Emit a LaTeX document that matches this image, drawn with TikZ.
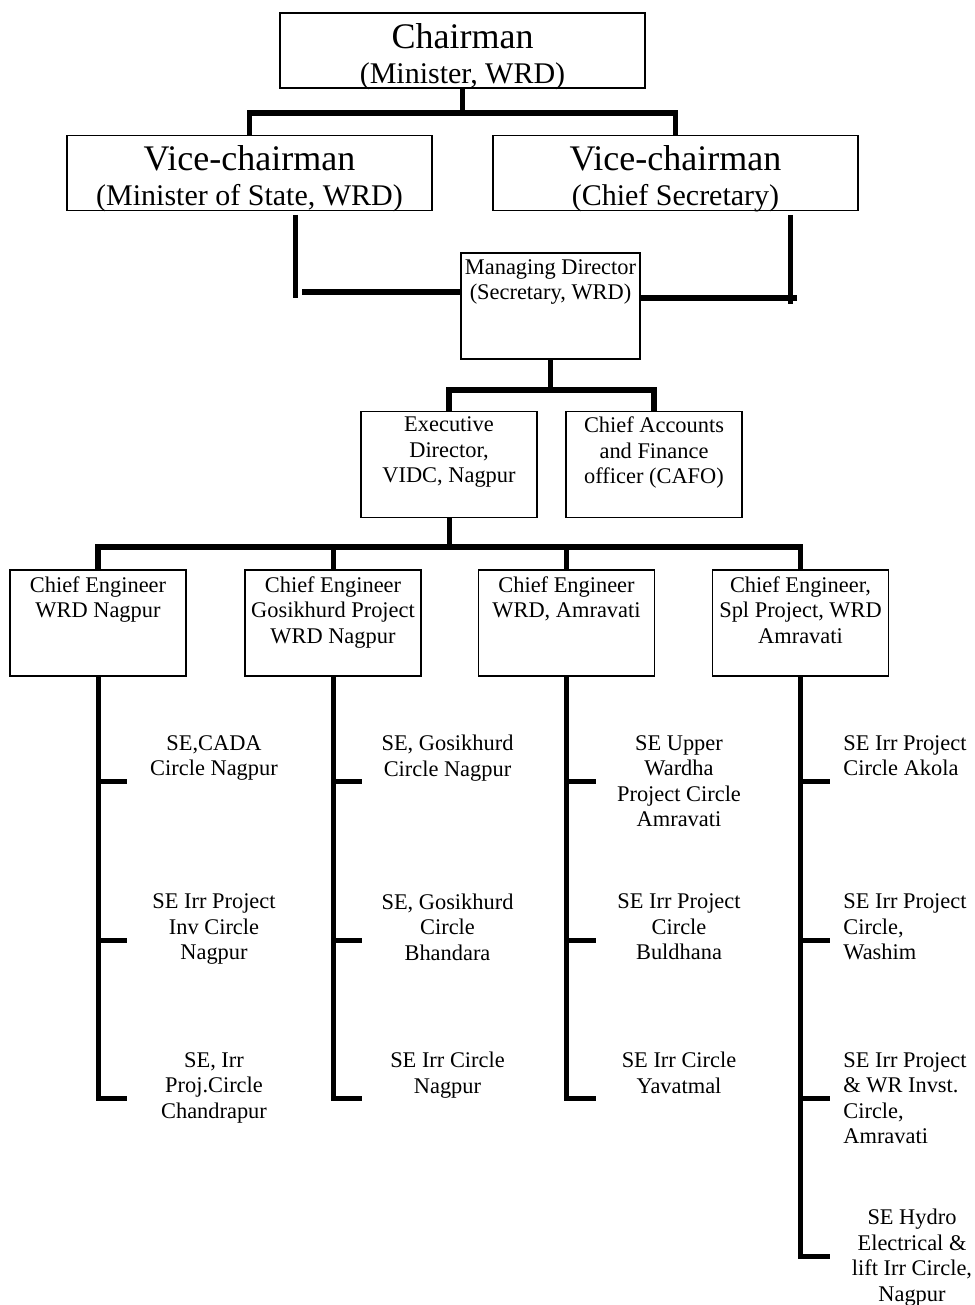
\documentclass[tikz,border=0pt]{standalone}
\usepackage{fontspec}
\setmainfont{Liberation Serif}
\usepackage{tikz}
\usetikzlibrary{positioning}

\begin{document}
\begin{tikzpicture}[x=0.5pt,y=-0.5pt,
    box/.style={draw, line width=0.75pt, inner sep=0pt},
    bigbox/.style={box, minimum width=182.5pt, minimum height=37.5pt},
    smallbox/.style={box, minimum width=88pt, minimum height=53pt},
    bigtext/.style={align=center, inner sep=0pt, font=\fontsize{18}{17.5}\selectfont},
    boxtext/.style={align=center, inner sep=0pt, font=\fontsize{11.2}{12.75}\selectfont},
    setext/.style={boxtext, anchor=north},
    conn/.style={line width=2.5pt},
    bar/.style={line width=2.9pt}]

\useasboundingbox (0,0) rectangle (974,1305);

% Draw the boxes
\node[bigbox] (chair) at (462.5,50.5) {};
\node[bigbox] (vice1) at (249.5,173) {};
\node[bigbox] (vice2) at (675.5,173) {};
\node[smallbox, minimum width=89.5pt] (md) at (550.5,306) {};
\node[smallbox] (ed) at (449,464.5) {};
\node[smallbox] (cafo) at (654,464.5) {};
\node[smallbox] (ce1) at (98,623) {};
\node[smallbox] (ce2) at (333,623) {};
\node[smallbox] (ce3) at (566.5,623) {};
\node[smallbox] (ce4) at (800.5,623) {};

% Text in the boxes
\node[bigtext, below=5.2pt of chair.north] (chairtxt) {Chairman\\{\fontsize{15}{17.5}\selectfont (Minister, WRD)}};
\node[bigtext, below=5.2pt of vice1.north] (vice1txt) {Vice-chairman\\{\fontsize{15}{17.5}\selectfont (Minister of State, WRD)}};
\node[bigtext, below=5.2pt of vice2.north] (vice2txt) {Vice-chairman\\{\fontsize{15}{17.5}\selectfont (Chief Secretary)}};
\node[boxtext, below=3.3pt of md.north] (mdtxt) {Managing Director\\(Secretary, WRD)};
\node[boxtext, below=2.9pt of ed.north] (edtxt) {Executive\\Director,\\VIDC, Nagpur};
\node[boxtext, below=2.9pt of cafo.north] (cafotxt) {Chief Accounts\\and Finance\\officer (CAFO)};
\node[boxtext, below=3.3pt of ce1.north] (ce1txt) {Chief Engineer\\WRD Nagpur};
\node[boxtext, below=3.3pt of ce2.north] (ce2txt) {Chief Engineer\\Gosikhurd Project\\WRD Nagpur};
\node[boxtext, below=3.3pt of ce3.north] (ce3txt) {Chief Engineer\\WRD, Amravati};
\node[boxtext, below=3.3pt of ce4.north] (ce4txt) {Chief Engineer,\\Spl Project, WRD\\Amravati};

% Chairman to vice-chairmen
\coordinate (bar1) at (462.5,113);
\draw[conn] (chair.south) -- (bar1);
\draw[bar] (vice1.north) |- (bar1) -| (vice2.north);

% Vice-chairmen to managing director
\coordinate (v1a) at (295,215);
\coordinate (v1b) at (295,298);
\coordinate (h1a) at (302,292);
\coordinate (v2a) at (790,215);
\coordinate (v2b) at (790,304);
\coordinate (h2b) at (797,298);
\draw[conn] (v1a) -- (v1b);
\draw[bar] (h1a) -- (h1a -| md.west);
\draw[conn] (v2a) -- (v2b);
\draw[bar] (md.east |- h2b) -- (h2b);

% Managing director to ED and CAFO
\coordinate (bar2) at (550.5,390);
\draw[conn] (md.south) -- (bar2);
\draw[bar] (ed.north) |- (bar2) -| (cafo.north);

% ED to chief engineers
\coordinate (bar3) at (449,547);
\draw[conn] (ed.south) -- (bar3);
\draw[bar] (ce1.north) |- (bar3) -| (ce4.north);
\draw[conn] (ce2.north) -- (ce2.north |- bar3);
\draw[conn] (ce3.north) -- (ce3.north |- bar3);

% Circles below each chief engineer
\foreach \c/\d in {ce1/422,ce2/422,ce3/422,ce4/580}
    \draw[conn] (\c.south) -- ++(0,\d) -- ++(29,0);
\foreach \c in {ce1,ce2,ce3,ce4}
{
    \draw[conn] (\c.south) ++(0,105) -- ++(29,0);
    \draw[conn] (\c.south) ++(0,264) -- ++(29,0);
}
\draw[conn] (ce4.south) ++(0,422) -- ++(29,0);

\node[setext] (se11) at (214,734.8) {SE,CADA\\Circle Nagpur};
\node[setext] (se12) at (214,893.3) {SE Irr Project\\Inv Circle\\Nagpur};
\node[setext] (se13) at (214,1051.8) {SE, Irr\\Proj.Circle\\Chandrapur};
\node[setext] (se21) at (447.5,734.8) {SE, Gosikhurd\\Circle Nagpur};
\node[setext] (se22) at (447.5,893.3) {SE, Gosikhurd\\Circle\\Bhandara};
\node[setext] (se23) at (447.5,1051.8) {SE Irr Circle\\Nagpur};
\node[setext] (se31) at (679,734.8) {SE Upper\\Wardha\\Project Circle\\Amravati};
\node[setext] (se32) at (679,893.3) {SE Irr Project\\Circle\\Buldhana};
\node[setext] (se33) at (679,1051.8) {SE Irr Circle\\Yavatmal};
\node[setext, anchor=north west, align=left] (se41) at (843,734.8) {SE Irr Project\\Circle Akola};
\node[setext, anchor=north west, align=left] (se42) at (843,893.3) {SE Irr Project\\Circle,\\Washim};
\node[setext, anchor=north west, align=left] (se43) at (843,1051.8) {SE Irr Project\\\& WR Invst.\\Circle,\\Amravati};
\node[setext] (se44) at (912,1208.8) {SE Hydro\\Electrical \&\\lift Irr Circle,\\Nagpur};
\end{tikzpicture}
\end{document}
